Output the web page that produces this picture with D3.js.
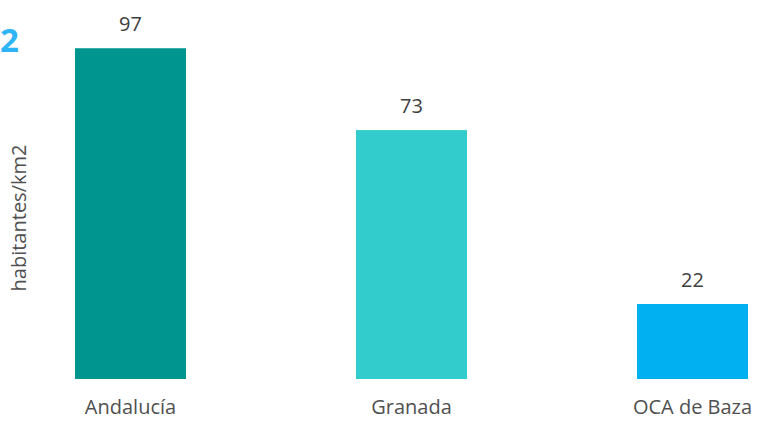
<!DOCTYPE html>
<html lang="es">
<head>
<meta charset="UTF-8" />
<title>Densidad de población</title>
<script src="https://d3js.org/d3.v7.min.js"></script>
<style>
  body { margin: 0; background: #fff; }
  text { font-family: "Open Sans", "Liberation Sans", sans-serif; }
</style>
</head>
<body>
<div id="chart"></div>
<script>
// data
const categories = ['Andalucía', 'Granada', 'OCA de Baza'];
const values = [97, 73, 22];
const colors = ['#00968F', '#33CCCC', '#00B0F0'];

const W = 758, H = 421;
const baseY = 379;

const svg = d3.select('#chart')
  .append('svg')
    .attr('width', W)
    .attr('height', H);

const x = d3.scaleBand()
  .domain(categories)
  .range([-10, 833])
  .paddingInner(0.605)
  .paddingOuter(0.3025);

const y = d3.scaleLinear()
  .domain([0, 100])
  .range([baseY, 38]);

// bars
svg.selectAll('.bar')
  .data(categories)
  .enter()
  .append('rect')
    .attr('class', 'bar')
    .attr('x', d => x(d))
    .attr('width', x.bandwidth())
    .attr('y', (d, i) => y(values[i]))
    .attr('height', (d, i) => baseY - y(values[i]))
    .attr('fill', (d, i) => colors[i]);

// value labels
svg.selectAll('.val')
  .data(categories)
  .enter()
  .append('text')
    .attr('class', 'val')
    .attr('x', d => x(d) + x.bandwidth() / 2)
    .attr('y', (d, i) => y(values[i]) - 17)
    .attr('text-anchor', 'middle')
    .style('font-size', '20px')
    .style('fill', '#404040')
    .text((d, i) => values[i]);

// category axis (no line)
const xAxis = svg.append('g')
  .attr('transform', `translate(0, ${baseY})`)
  .call(d3.axisBottom(x).tickSize(0).tickPadding(21));
xAxis.select('.domain').remove();
xAxis.selectAll('text')
  .style('font-size', '20px')
  .style('fill', '#505050')
  .attr('dy', '0.71em');

// y axis title
svg.append('text')
  .attr('transform', 'translate(26, 218) rotate(-90)')
  .attr('text-anchor', 'middle')
  .style('font-size', '20px')
  .style('fill', '#505050')
  .text('habitantes/km2');

// blue number in the corner
svg.append('text')
  .attr('x', 0)
  .attr('y', 52)
  .style('font-size', '33px')
  .style('font-weight', 'bold')
  .style('fill', '#2EB4F7')
  .text('2');
</script>
</body>
</html>
